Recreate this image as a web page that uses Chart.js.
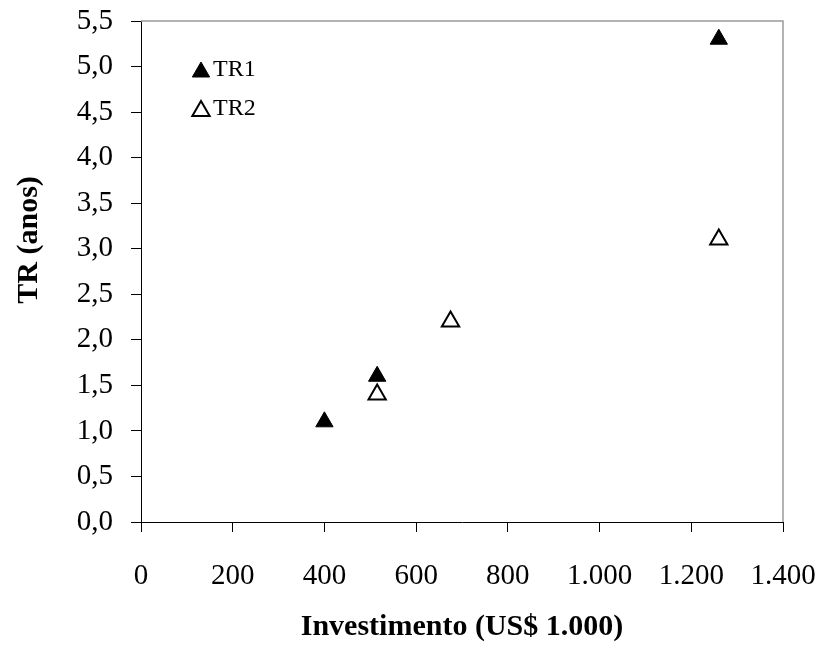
<!DOCTYPE html>
<html>
<head>
<meta charset="utf-8">
<script src="https://cdn.jsdelivr.net/npm/chart.js@4/dist/chart.umd.min.js"></script>
<style>
  html, body { margin: 0; padding: 0; background: #fff; }
  #wrap { width: 822px; height: 652px; position: relative; }
</style>
</head>
<body>
<div id="wrap"><canvas id="tr"></canvas></div>
<script>
/* TR x investimento — two series of triangles */
const tr1X = [400, 515, 1260];
const tr1Y = [1.1, 1.6, 5.3];
const tr2X = [515, 675, 1260];
const tr2Y = [1.4, 2.2, 3.1];
const xTicks = { min: 0, max: 1400, step: 200 };
const yTicks = { min: 0, max: 5.5, step: 0.5 };
const yTitle = "TR (anos)";

const serif = "'Times New Roman', 'Liberation Serif', serif";
const pts = (xs, ys) => xs.map((x, i) => ({ x: x, y: ys[i] }));
const milhar = v => String(v).replace(/\B(?=(\d{3})+(?!\d))/g, ".");

// legend sits inside the plot, top-left, Excel style
const innerLegend = {
  id: "innerLegend",
  afterDraw(chart) {
    const { ctx, chartArea: a } = chart;
    ctx.save();
    chart.data.datasets.forEach((ds, i) => {
      const y = a.top + 49 + i * 39;
      ctx.fillStyle = ds.backgroundColor;
      ctx.strokeStyle = ds.borderColor;
      ctx.lineWidth = ds.borderWidth;
      Chart.helpers.drawPoint(ctx, {
        pointStyle: "triangle", radius: ds.pointRadius, rotation: 0, borderWidth: ds.borderWidth,
      }, a.left + 60, y + 2);
      ctx.fillStyle = "#000";
      ctx.font = "24px " + serif;
      ctx.textBaseline = "middle";
      ctx.textAlign = "left";
      ctx.fillText(ds.label, a.left + 72, y);
    });
    ctx.restore();
  },
};

// vertical axis title, set a bit above the middle of the plot
const sideTitle = {
  id: "sideTitle",
  afterDraw(chart) {
    const { ctx, chartArea: a } = chart;
    ctx.save();
    ctx.translate(29, a.top + (a.bottom - a.top) * 0.437);
    ctx.rotate(-Math.PI / 2);
    ctx.fillStyle = "#000";
    ctx.font = "bold 30px " + serif;
    ctx.textAlign = "center";
    ctx.textBaseline = "middle";
    ctx.fillText(yTitle, 0, 0);
    ctx.restore();
  },
};

// thin grey frame on top and right of the plot area
const frame = {
  id: "frame",
  beforeDatasetsDraw(chart) {
    const { ctx, chartArea: a } = chart;
    ctx.save();
    ctx.strokeStyle = "#9a9a9a";
    ctx.lineWidth = 1.5;
    ctx.beginPath();
    ctx.moveTo(a.left, a.top);
    ctx.lineTo(a.right, a.top);
    ctx.lineTo(a.right, a.bottom);
    ctx.stroke();
    ctx.restore();
  },
};

new Chart(document.getElementById("tr"), {
  type: "scatter",
  data: {
    datasets: [
      {
        label: "TR1", data: pts(tr1X, tr1Y),
        pointStyle: "triangle", pointRadius: 10, pointHoverRadius: 10,
        backgroundColor: "#000", borderColor: "#000", borderWidth: 1,
      },
      {
        label: "TR2", data: pts(tr2X, tr2Y),
        pointStyle: "triangle", pointRadius: 10, pointHoverRadius: 10,
        backgroundColor: "#fff", borderColor: "#000", borderWidth: 2,
      },
    ],
  },
  options: {
    responsive: true, maintainAspectRatio: false, animation: false,
    layout: { padding: { top: 21, right: 39, left: 0, bottom: 0 } },
    plugins: { legend: { display: false }, tooltip: { enabled: false } },
    scales: {
      x: {
        type: "linear", min: xTicks.min, max: xTicks.max,
        afterFit: s => { s.height = 130; s.paddingLeft = 0; s.paddingRight = 0; },
        border: { color: "#000", width: 1 },
        grid: { drawOnChartArea: false, tickLength: 10, color: "#000" },
        ticks: {
          stepSize: xTicks.step, color: "#000", padding: 27, maxRotation: 0,
          font: { family: serif, size: 29 }, callback: v => milhar(v),
        },
        title: {
          display: true, text: "Investimento (US$ 1.000)", color: "#000",
          font: { family: serif, size: 30, weight: "bold" },
          padding: { top: 0, bottom: 7 },
        },
      },
      y: {
        min: yTicks.min, max: yTicks.max,
        afterFit: s => { s.width = 141; s.paddingTop = 0; s.paddingBottom = 0; },
        border: { color: "#000", width: 1 },
        grid: { drawOnChartArea: false, tickLength: 10, color: "#000" },
        ticks: {
          stepSize: yTicks.step, color: "#000", padding: 18,
          font: { family: serif, size: 29 }, callback: v => v.toFixed(1).replace(".", ","),
        },
      },
    },
  },
  plugins: [frame, sideTitle, innerLegend],
});
</script>
</body>
</html>
